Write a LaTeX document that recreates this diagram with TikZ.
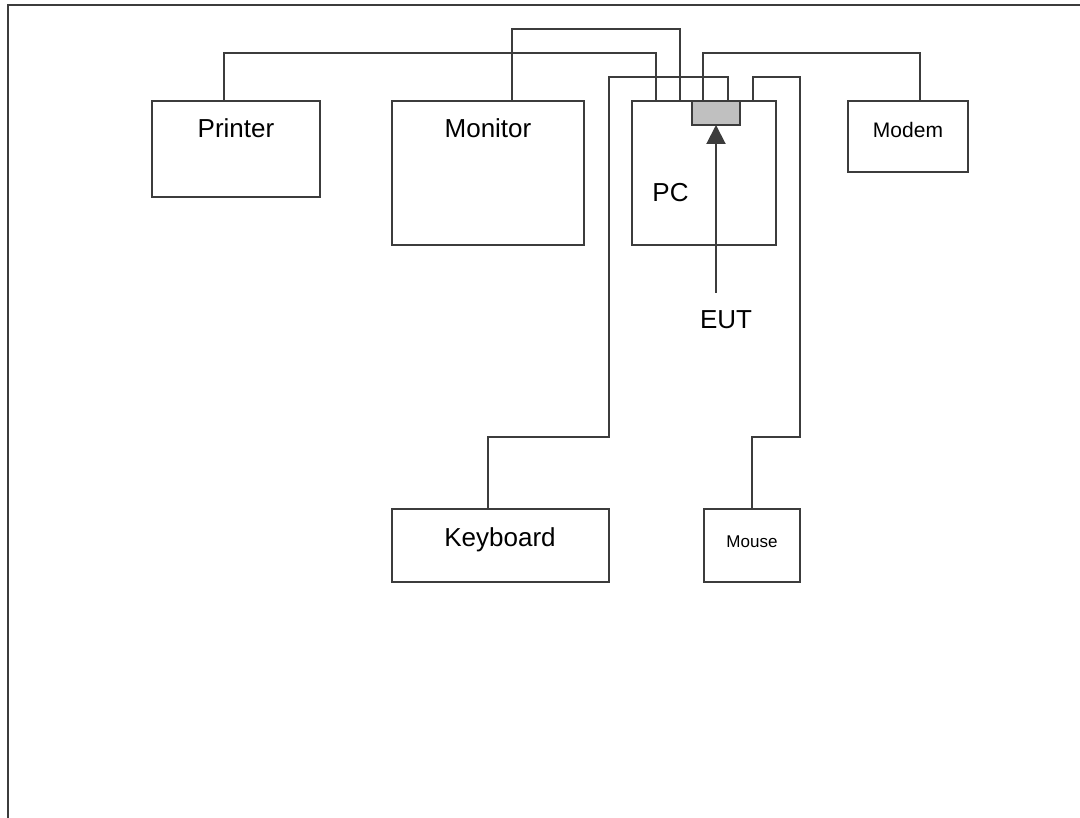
\documentclass[tikz,border=0pt]{standalone}
\usepackage{fontspec}
\setmainfont{Liberation Sans}
\usetikzlibrary{arrows.meta}
\definecolor{ln}{HTML}{3C3C3C}
\definecolor{portfill}{HTML}{C0C0C0}
\begin{document}
\begin{tikzpicture}[x=1pt,y=-1pt,
  box/.style={draw=ln,line width=2pt,rectangle,inner sep=0pt,outer sep=0pt,fill=white},
  portbox/.style={box,fill=portfill},
  wire/.style={draw=ln,line width=2pt},
  frameline/.style={draw=ln,line width=2.5pt},
  eutarrow/.style={draw=ln,line width=2pt,-{Triangle[width=19pt,length=19pt]},fill=ln},
  lbig/.style={anchor=base,inner sep=0pt,font=\fontsize{26}{30}\selectfont},
  lmid/.style={anchor=base,inner sep=0pt,font=\fontsize{21}{25}\selectfont},
  lsmall/.style={anchor=base,inner sep=0pt,font=\fontsize{17}{20}\selectfont}]
\useasboundingbox (0,0) rectangle (1080,818);
\fill[white] (0,0) rectangle (1080,818);
% frame
\coordinate (fbl) at (8,818);
\coordinate (ftl) at (8,5);
\coordinate (ftr) at (1080,5);
\draw[frameline] (fbl) -- (ftl) -- (ftr);
% bus levels
\coordinate (busA) at (0,29);
\coordinate (busB) at (0,53);
\coordinate (busC) at (0,77);
\coordinate (busD) at (0,437);
% boxes
\node[box,minimum width=168pt,minimum height=96pt] (printer) at (236,149) {};
\node[box,minimum width=192pt,minimum height=144pt] (monitor) at (488,173) {};
\node[box,minimum width=144pt,minimum height=144pt] (pc) at (704,173) {};
\node[portbox,minimum width=48pt,minimum height=24pt] (port) at (716,113) {};
\node[box,minimum width=120pt,minimum height=71pt] (modem) at (908,136.5) {};
\node[box,minimum width=217pt,minimum height=73pt] (kbd) at (500.5,545.5) {};
\node[box,minimum width=96pt,minimum height=73pt] (mouse) at (752,545.5) {};
% labels
\node[lbig] (tprinter) at (236,138) {Printer};
\node[lbig] (tmonitor) at (488,138) {Monitor};
\node[lbig] (tpc) at (670.5,202) {PC};
\node[lmid] (tmodem) at (908,138) {Modem};
\node[lbig] (tkbd) at (500,546) {Keyboard};
\node[lsmall] (tmouse) at (752,547) {Mouse};
\node[lbig] (teut) at (726,329) {EUT};
% wires
\draw[wire] ([xshift=72pt]printer.north west) -- ([xshift=72pt]printer.north west |- busB)
  -| ([xshift=24pt]pc.north west);
\draw[wire] ([xshift=120pt]monitor.north west) -- ([xshift=120pt]monitor.north west |- busA)
  -| ([xshift=48pt]pc.north west);
\draw[wire] ([xshift=11pt]port.north west) -- ([xshift=11pt]port.north west |- busB)
  -| ([xshift=72pt]modem.north west);
\draw[wire] ([xshift=96pt]kbd.north west) -- ([xshift=96pt]kbd.north west |- busD)
  -- (kbd.north east |- busD) -- (kbd.north east |- busC)
  -| ([xshift=36pt]port.north west);
\draw[wire] (mouse.north) -- (mouse.north |- busD)
  -- (mouse.north east |- busD) -- (mouse.north east |- busC)
  -| ([xshift=121pt]pc.north west);
% EUT arrow
\coordinate (eutend) at (716,293);
\draw[eutarrow] (eutend) -- (port.south);
\end{tikzpicture}
\end{document}
